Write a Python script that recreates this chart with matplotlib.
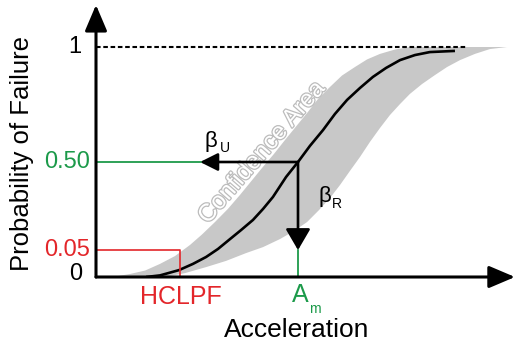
import matplotlib
matplotlib.use("Agg")
import matplotlib.pyplot as plt
import matplotlib.patheffects as pe

plt.rcParams["font.family"] = ["Liberation Sans", "DejaVu Sans"]

# fragility curve (acceleration in units of Am, prob. of failure)
acc_median = [0.248, 0.317, 0.411, 0.480, 0.545, 0.604, 0.658, 0.718, 0.777,
              0.827, 0.876, 0.941, 1.0, 1.059, 1.124, 1.183, 1.243, 1.307,
              1.371, 1.436, 1.505, 1.579, 1.653, 1.777]
pf_median = [0.0, 0.007, 0.030, 0.057, 0.087, 0.122, 0.161, 0.204, 0.248,
             0.296, 0.348, 0.435, 0.5, 0.570, 0.639, 0.709, 0.770, 0.822,
             0.870, 0.909, 0.943, 0.965, 0.978, 0.983]

# confidence band, upper/left edge
acc_band_hi = [0.020, 0.094, 0.168, 0.243, 0.317, 0.391, 0.465, 0.525, 0.589,
               0.653, 0.713, 0.767, 0.822, 0.881, 0.936, 0.990, 1.045, 1.099,
               1.158, 1.218, 1.282, 1.342, 1.406, 1.480, 1.554]
pf_band_hi = [0.0, 0.002, 0.013, 0.028, 0.057, 0.091, 0.139, 0.185, 0.239,
              0.296, 0.357, 0.415, 0.474, 0.535, 0.596, 0.654, 0.713, 0.774,
              0.826, 0.876, 0.913, 0.946, 0.970, 0.989, 1.0]

# confidence band, lower/right edge
acc_band_lo = [0.342, 0.441, 0.545, 0.644, 0.743, 0.827, 0.911, 0.980, 1.045,
               1.104, 1.158, 1.208, 1.257, 1.307, 1.356, 1.406, 1.455, 1.505,
               1.554, 1.614, 1.678, 1.738, 1.802, 1.876, 1.950, 2.035]
pf_band_lo = [0.0, 0.017, 0.043, 0.070, 0.104, 0.130, 0.165, 0.200, 0.239,
              0.291, 0.343, 0.400, 0.461, 0.522, 0.587, 0.648, 0.704, 0.752,
              0.796, 0.839, 0.878, 0.913, 0.943, 0.970, 0.991, 1.0]

# marked levels on the probability axis (schematic heights) and their labels
prob_marks = [0.0, 0.117, 0.5, 1.0]
prob_labels = ["0", "0.05", "0.50", "1"]
acc_hclpf = 0.416
acc_am = 1.0
acc_dotted_end = 1.837

GREEN = "#1c9a4a"
RED = "#e3262a"
GRAY = "#c8c8c8"

fig = plt.figure(figsize=(5.2, 3.47), dpi=100)
ax = fig.add_axes([96 / 520, 70 / 347, 2.1 * 202 / 520, 1.2 * 230 / 347])
ax.set_xlim(0, 2.1)
ax.set_ylim(0, 1.2)
ax.axis("off")

# confidence area
ax.fill(acc_band_hi + acc_band_lo[::-1], pf_band_hi + pf_band_lo[::-1],
        color=GRAY, lw=0, zorder=1)
ax.text(0.822, 0.539, "Confidence Area", rotation=49, fontsize=17.5,
        color="white", ha="center", va="center", zorder=2,
        path_effects=[pe.withStroke(linewidth=1.8, foreground="#bcbcbc")])

# median curve
ax.plot(acc_median, pf_median, color="black", lw=1.9, zorder=3,
        solid_joinstyle="round", solid_capstyle="butt")

# probability = 1
ax.plot([0, acc_dotted_end], [prob_marks[3]] * 2, color="black", lw=1.5,
        ls=(0, (2.2, 1.3)), zorder=3)

# HCLPF (red) and median (green) guides
ax.plot([0, acc_hclpf, acc_hclpf], [prob_marks[1], prob_marks[1], 0],
        color=RED, lw=1.2, zorder=3)
ax.plot([0, 0.52], [prob_marks[2]] * 2, color=GREEN, lw=1.3, zorder=3)
ax.plot([acc_am, acc_am], [0, prob_marks[1]], color=GREEN, lw=1.3, zorder=3)

# beta arrows
ax.annotate("", xy=(0.515, prob_marks[2]), xytext=(acc_am, prob_marks[2]),
            arrowprops=dict(arrowstyle="-|>,head_length=0.6,head_width=0.3",
                            mutation_scale=18, lw=1.9, color="black",
                            shrinkA=0, shrinkB=0), zorder=4)
ax.annotate("", xy=(acc_am, prob_marks[1]), xytext=(acc_am, prob_marks[2]),
            arrowprops=dict(arrowstyle="-|>,head_length=0.65,head_width=0.38",
                            mutation_scale=20, lw=1.9, color="black",
                            shrinkA=0, shrinkB=0), zorder=4)

# axes with arrows
ax.annotate("", xy=(0, 1.183), xytext=(0, 0),
            arrowprops=dict(arrowstyle="-|>,head_length=0.8,head_width=0.34",
                            mutation_scale=20, lw=2.2, color="black",
                            shrinkA=0, shrinkB=0), zorder=5)
ax.annotate("", xy=(2.074, 0), xytext=(0, 0),
            arrowprops=dict(arrowstyle="-|>,head_length=0.8,head_width=0.34",
                            mutation_scale=20, lw=2.2, color="black",
                            shrinkA=0, shrinkB=0), zorder=5)

# labels on the probability axis
lab_colors = ["black", RED, GREEN, "black"]
lab_x = [-0.07, -0.03, -0.03, -0.07]
lab_dy = [0.012, 0.0, 0.0, 0.0]
for v, s, c, x, dy in zip(prob_marks, prob_labels, lab_colors, lab_x, lab_dy):
    ax.text(x, v + dy, s, color=c, fontsize=17, ha="right", va="center",
            clip_on=False)

ax.text(-0.366, 0.535, "Probability of Failure", rotation=90, fontsize=18.5,
        ha="center", va="center", clip_on=False)

# labels on the acceleration axis
ax.text(acc_hclpf + 0.005, -0.087, "HCLPF", color=RED, fontsize=18,
        ha="center", va="center", clip_on=False)
ax.text(acc_am + 0.01, -0.078, "A", color=GREEN, fontsize=18, ha="center",
        va="center", clip_on=False)
ax.text(acc_am + 0.084, -0.139, "m", color=GREEN, fontsize=10, ha="center",
        va="center", clip_on=False)
ax.text(0.995, -0.232, "Acceleration", fontsize=19, ha="center", va="center",
        clip_on=False)

# beta labels
ax.text(0.569, 0.591, "β", fontsize=16, ha="center", va="center")
ax.text(0.639, 0.561, "U", fontsize=10, ha="center", va="center")
ax.text(1.134, 0.348, "β", fontsize=16, ha="center", va="center")
ax.text(1.193, 0.317, "R", fontsize=10, ha="center", va="center")

fig.savefig("out.png", dpi=100)
